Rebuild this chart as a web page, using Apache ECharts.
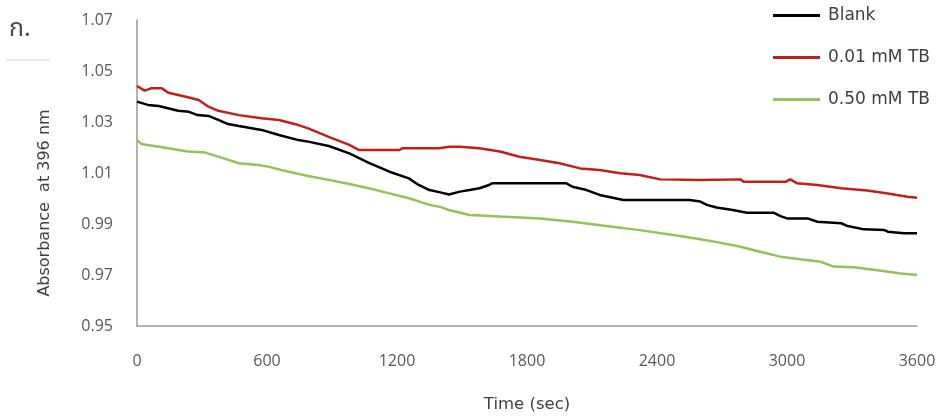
<!DOCTYPE html>
<html>
<head>
<meta charset="utf-8">
<script src="https://cdn.jsdelivr.net/npm/echarts@6/dist/echarts.min.js"></script>
<style>html,body{margin:0;padding:0;background:#fff}#c{width:946px;height:418px}</style>
</head>
<body>
<div id="c"></div>
<script>
const seriesNames = ['Blank', '0.01 mM TB', '0.50 mM TB'];
const xTicks = [0, 600, 1200, 1800, 2400, 3000, 3600];
const yTicks = [0.95, 0.97, 0.99, 1.01, 1.03, 1.05, 1.07];

const blankTime = [0,50,100,190,240,280,330,375,420,470,575,655,745,790,885,980,1070,1165,1255,1300,1350,1395,1440,1490,1535,1580,1625,1640,1980,2010,2075,2135,2245,2550,2600,2630,2675,2750,2815,2940,2970,3000,3095,3140,3250,3280,3355,3450,3465,3540,3600];
const blankVal = [1.038,1.0367,1.0363,1.0344,1.034,1.0327,1.0324,1.0308,1.0292,1.0284,1.0269,1.0249,1.0229,1.0223,1.0206,1.0177,1.014,1.0105,1.0079,1.0053,1.0033,1.0025,1.0016,1.0027,1.0033,1.004,1.0053,1.006,1.006,1.0046,1.0033,1.0014,0.9994,0.9994,0.9988,0.9975,0.9965,0.9955,0.9944,0.9944,0.9931,0.9922,0.9922,0.9909,0.9903,0.9892,0.9879,0.9876,0.987,0.9864,0.9864];

const redTime = [0,35,65,115,145,235,285,330,375,470,575,655,745,790,885,980,1025,1210,1225,1395,1440,1490,1580,1675,1765,1860,1950,2045,2135,2230,2320,2415,2600,2785,2800,2995,3015,3045,3140,3250,3370,3465,3555,3600];
const redVal = [1.0441,1.0423,1.0432,1.0432,1.0415,1.0397,1.0386,1.036,1.0344,1.0327,1.0315,1.0308,1.0288,1.0275,1.0242,1.021,1.019,1.019,1.0197,1.0197,1.0203,1.0203,1.0197,1.0184,1.0164,1.0151,1.0138,1.0118,1.0112,1.0099,1.0092,1.0075,1.0073,1.0075,1.0066,1.0066,1.0075,1.006,1.0053,1.004,1.0031,1.002,1.0007,1.0003];

const greenTime = [0,20,50,145,235,315,375,470,560,605,700,790,885,980,1070,1165,1255,1350,1395,1440,1535,1675,1860,2010,2165,2320,2475,2600,2690,2785,2875,2970,3060,3155,3215,3310,3435,3525,3600];
const greenVal = [1.023,1.0214,1.021,1.0197,1.0184,1.018,1.0164,1.0138,1.0131,1.0125,1.0105,1.0088,1.0073,1.0057,1.004,1.002,1.0001,0.9975,0.9968,0.9955,0.9935,0.9929,0.9922,0.9909,0.9892,0.9876,0.9857,0.984,0.9827,0.9811,0.9791,0.9772,0.9762,0.9752,0.9733,0.973,0.9717,0.9706,0.97];

function pairs(t, v) { return t.map((x, i) => [x, v[i]]); }

const colors = ['#000000', '#c0201a', '#93c25c'];
const tickFont = { fontFamily: 'Open Sans', fontSize: 16, color: '#595959' };
const titleFont = 'DejaVu Sans';

const chart = echarts.init(document.getElementById('c'), null, { renderer: 'canvas' });
chart.setOption({
  animation: false,
  backgroundColor: '#ffffff',
  grid: { left: 137, right: 29, top: 20, bottom: 92 },
  legend: {
    orient: 'vertical',
    left: 773,
    top: 5,
    padding: 0,
    itemWidth: 47,
    itemHeight: 3,
    itemGap: 21,
    icon: 'rect',
    data: seriesNames,
    textStyle: { fontFamily: titleFont, fontSize: 17, color: '#404040', lineHeight: 21, padding: [0, 0, 0, 3] }
  },
  xAxis: {
    type: 'value',
    min: xTicks[0],
    max: xTicks[xTicks.length - 1],
    interval: 600,
    axisLine: { show: true, lineStyle: { color: '#999999', width: 1.5 } },
    axisTick: { show: false },
    splitLine: { show: false },
    axisLabel: Object.assign({ margin: 27, formatter: function (v) { return String(v); } }, tickFont)
  },
  yAxis: {
    type: 'value',
    min: 0.95,
    max: 1.07,
    interval: 0.01,
    axisLine: { show: true, lineStyle: { color: '#999999', width: 1.5 } },
    axisTick: { show: false },
    splitLine: { show: false },
    axisLabel: Object.assign({
      margin: 24,
      formatter: function (v) {
        const hit = yTicks.some(t => Math.abs(t - v) < 1e-6);
        return hit ? v.toFixed(2) : '';
      }
    }, tickFont)
  },
  graphic: [
    { type: 'text', x: 9, y: 31, style: { text: 'ก.', fontFamily: 'Noto Sans Thai, Noto Sans, sans-serif', fontSize: 25, fill: '#4a4a4a', verticalAlign: 'middle' } },
    { type: 'line', shape: { x1: 6, y1: 60, x2: 50, y2: 60 }, style: { stroke: '#e4e4e4', lineWidth: 1.5 } },
    { type: 'text', x: 45, y: 203, rotation: Math.PI / 2, style: { text: 'Absorbance  at 396 nm', fontFamily: titleFont, fontSize: 16, fill: '#404040', align: 'center', verticalAlign: 'middle' } },
    { type: 'text', x: 527, y: 405, style: { text: 'Time (sec)', fontFamily: titleFont, fontSize: 16.5, fill: '#404040', align: 'center', verticalAlign: 'middle' } }
  ],
  series: [
    { name: seriesNames[0], type: 'line', data: pairs(blankTime, blankVal), showSymbol: false, lineStyle: { color: colors[0], width: 2.5 }, itemStyle: { color: colors[0] } },
    { name: seriesNames[1], type: 'line', data: pairs(redTime, redVal), showSymbol: false, lineStyle: { color: colors[1], width: 2.5 }, itemStyle: { color: colors[1] } },
    { name: seriesNames[2], type: 'line', data: pairs(greenTime, greenVal), showSymbol: false, lineStyle: { color: colors[2], width: 2.5 }, itemStyle: { color: colors[2] } }
  ]
});
</script>
</body>
</html>
